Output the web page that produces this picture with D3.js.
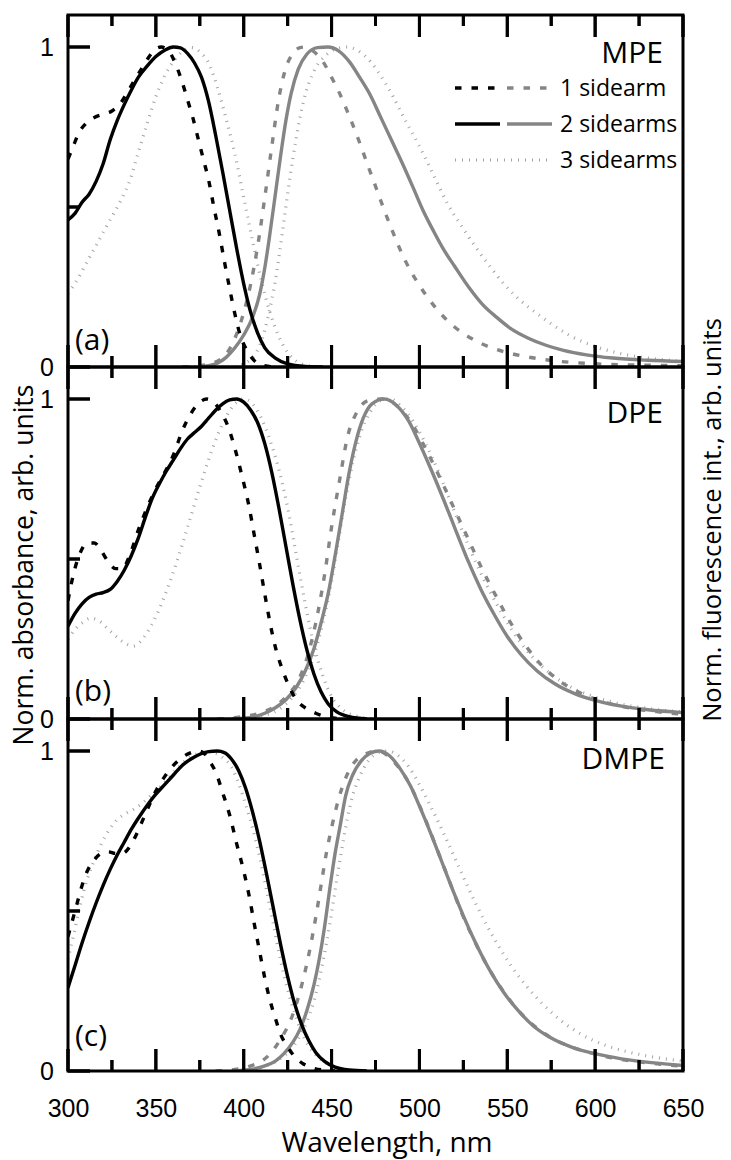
<!DOCTYPE html>
<html>
<head>
<meta charset="utf-8">
<script src="https://cdn.jsdelivr.net/npm/d3@7"></script>
<style>
  html, body { margin: 0; padding: 0; background: #fff; }
  svg { display: block; }
</style>
</head>
<body>
<svg id="chart" width="731" height="1160"></svg>
<script>
// ---------------- DATA ----------------
// wavelength (nm), normalized intensity
const mpeAbs1 = [[300,0.65],[303,0.69],[306,0.73],[310,0.76],[315,0.78],[320,0.79],[325,0.80],[330,0.825],[335,0.87],[340,0.915],[345,0.96],[349,0.99],[353,1.0],[357,0.99],[361,0.95],[365,0.89],[368,0.835],[371,0.78],[374,0.715],[377,0.65],[380,0.585],[383,0.5],[386,0.42],[389,0.33],[392,0.245],[395,0.165],[398,0.1],[402,0.05],[406,0.02],[411,0.005],[418,0]];
const mpeAbs2 = [[300,0.46],[304,0.48],[308,0.515],[312,0.54],[316,0.58],[320,0.635],[324,0.71],[328,0.77],[332,0.82],[336,0.865],[340,0.905],[345,0.94],[350,0.97],[355,0.99],[360,1.0],[364,0.997],[368,0.98],[372,0.95],[376,0.905],[380,0.83],[384,0.725],[388,0.61],[392,0.49],[396,0.37],[400,0.26],[404,0.17],[408,0.105],[412,0.06],[418,0.028],[425,0.01],[435,0.002],[445,0]];
const mpeAbs3 = [[300,0.23],[305,0.27],[310,0.32],[315,0.37],[320,0.42],[325,0.47],[330,0.52],[335,0.58],[340,0.67],[345,0.76],[350,0.845],[355,0.91],[360,0.955],[365,0.985],[370,0.998],[375,0.985],[380,0.95],[385,0.875],[390,0.775],[395,0.665],[400,0.53],[405,0.395],[410,0.27],[415,0.17],[420,0.095],[425,0.045],[430,0.018],[437,0.004],[445,0]];
const mpeEm1 = [[365,0],[375,0.004],[385,0.018],[390,0.04],[395,0.09],[400,0.17],[404,0.26],[408,0.38],[412,0.53],[416,0.69],[420,0.84],[424,0.935],[428,0.98],[432,0.998],[435,1.0],[440,0.985],[445,0.955],[450,0.905],[455,0.85],[460,0.785],[465,0.715],[470,0.64],[475,0.565],[480,0.49],[485,0.42],[490,0.355],[495,0.3],[500,0.255],[505,0.215],[510,0.18],[515,0.15],[520,0.125],[530,0.088],[540,0.062],[550,0.045],[560,0.033],[570,0.024],[585,0.015],[600,0.01],[625,0.006],[650,0.004]];
const mpeEm2 = [[375,0],[385,0.012],[390,0.03],[395,0.06],[400,0.1],[405,0.155],[409,0.225],[412,0.31],[415,0.42],[418,0.54],[421,0.66],[424,0.77],[427,0.855],[431,0.93],[436,0.978],[442,0.998],[448,1.0],[454,0.988],[460,0.955],[466,0.905],[472,0.85],[478,0.78],[484,0.71],[490,0.64],[496,0.566],[502,0.49],[508,0.425],[514,0.365],[520,0.315],[528,0.25],[536,0.195],[544,0.155],[552,0.12],[562,0.09],[572,0.068],[582,0.052],[595,0.038],[610,0.028],[630,0.021],[650,0.017]];
const mpeEm3 = [[395,0],[405,0.03],[410,0.08],[414,0.16],[418,0.27],[422,0.42],[426,0.58],[430,0.72],[434,0.83],[440,0.925],[447,0.975],[453,0.995],[459,1.0],[466,0.985],[472,0.955],[478,0.91],[485,0.845],[492,0.77],[500,0.69],[508,0.6],[516,0.51],[524,0.44],[532,0.375],[540,0.315],[548,0.26],[556,0.215],[565,0.175],[575,0.135],[585,0.1],[598,0.068],[612,0.045],[630,0.028],[650,0.018]];

const dpeAbs1 = [[300,0.37],[303,0.45],[307,0.52],[311,0.55],[315,0.55],[319,0.525],[323,0.49],[327,0.47],[331,0.47],[335,0.51],[340,0.59],[345,0.66],[350,0.72],[355,0.77],[360,0.825],[365,0.9],[370,0.955],[375,0.99],[379,1.0],[383,0.99],[387,0.96],[391,0.915],[395,0.845],[399,0.76],[403,0.665],[406,0.575],[409,0.485],[412,0.39],[415,0.3],[418,0.225],[422,0.155],[426,0.1],[430,0.06],[435,0.035],[441,0.018],[448,0.006],[455,0]];
const dpeAbs2 = [[300,0.29],[304,0.33],[308,0.36],[312,0.38],[316,0.39],[320,0.395],[324,0.405],[328,0.43],[332,0.465],[336,0.51],[340,0.565],[344,0.63],[348,0.69],[352,0.735],[356,0.775],[360,0.81],[364,0.845],[368,0.875],[372,0.895],[376,0.915],[380,0.94],[384,0.965],[388,0.985],[392,0.997],[396,1.0],[400,0.99],[404,0.965],[408,0.925],[412,0.86],[416,0.77],[420,0.66],[424,0.54],[428,0.42],[432,0.31],[436,0.215],[440,0.14],[444,0.085],[448,0.048],[453,0.022],[460,0.007],[470,0]];
const dpeAbs3 = [[300,0.25],[304,0.28],[308,0.30],[313,0.315],[318,0.305],[323,0.28],[328,0.255],[333,0.235],[337,0.228],[341,0.24],[345,0.27],[350,0.32],[355,0.385],[360,0.46],[365,0.545],[370,0.635],[375,0.725],[380,0.81],[385,0.885],[390,0.945],[395,0.985],[400,1.0],[405,0.985],[410,0.94],[415,0.87],[420,0.78],[425,0.66],[430,0.51],[435,0.36],[440,0.23],[445,0.135],[450,0.07],[456,0.03],[465,0.008],[475,0]];
const dpeEm1 = [[385,0],[400,0.008],[410,0.02],[418,0.04],[425,0.075],[430,0.11],[436,0.19],[441,0.3],[446,0.45],[450,0.6],[455,0.76],[459,0.88],[464,0.955],[471,0.995],[479,1.0],[488,0.975],[496,0.92],[504,0.84],[512,0.75],[520,0.655],[528,0.56],[536,0.465],[544,0.38],[552,0.3],[561,0.225],[570,0.165],[580,0.118],[592,0.08],[605,0.053],[620,0.034],[635,0.023],[650,0.015]];
const dpeEm2 = [[393,0],[405,0.006],[412,0.018],[418,0.035],[424,0.06],[430,0.1],[435,0.15],[440,0.22],[444,0.3],[448,0.39],[452,0.51],[456,0.64],[460,0.77],[464,0.87],[468,0.94],[473,0.985],[480,1.0],[487,0.98],[494,0.93],[500,0.862],[507,0.775],[514,0.682],[521,0.585],[528,0.49],[535,0.405],[542,0.332],[550,0.258],[558,0.2],[567,0.15],[577,0.11],[588,0.08],[600,0.058],[615,0.04],[630,0.029],[650,0.02]];
const dpeEm3 = [[398,0],[410,0.01],[420,0.03],[428,0.07],[434,0.12],[440,0.2],[445,0.3],[450,0.43],[454,0.56],[458,0.69],[462,0.8],[467,0.9],[472,0.96],[478,0.995],[483,1.0],[490,0.975],[497,0.925],[504,0.855],[511,0.77],[518,0.675],[525,0.58],[532,0.49],[540,0.4],[548,0.32],[556,0.25],[565,0.19],[575,0.14],[586,0.1],[598,0.072],[612,0.05],[630,0.033],[650,0.022]];

const dmpeAbs1 = [[300,0.42],[302,0.46],[305,0.52],[308,0.58],[311,0.625],[315,0.66],[319,0.68],[323,0.685],[327,0.68],[331,0.68],[335,0.7],[339,0.74],[343,0.79],[347,0.84],[351,0.885],[355,0.92],[360,0.955],[365,0.98],[370,0.995],[374,1.0],[378,0.99],[381,0.965],[384,0.935],[388,0.87],[392,0.8],[396,0.71],[400,0.625],[403,0.55],[406,0.46],[409,0.375],[412,0.29],[415,0.22],[418,0.165],[421,0.115],[425,0.075],[429,0.045],[434,0.022],[440,0.008],[447,0.002],[452,0]];
const dmpeAbs2 = [[300,0.26],[304,0.33],[308,0.4],[312,0.465],[316,0.525],[320,0.58],[324,0.63],[328,0.675],[332,0.715],[336,0.755],[340,0.79],[345,0.83],[350,0.865],[355,0.895],[360,0.925],[365,0.955],[370,0.975],[375,0.99],[380,0.998],[385,1.0],[389,0.995],[393,0.975],[397,0.94],[401,0.885],[405,0.81],[409,0.72],[413,0.615],[417,0.505],[421,0.395],[425,0.295],[429,0.21],[433,0.145],[437,0.095],[441,0.058],[446,0.03],[452,0.012],[460,0.003],[470,0]];
const dmpeAbs3 = [[300,0.35],[303,0.42],[307,0.52],[311,0.6],[315,0.66],[319,0.71],[323,0.75],[328,0.785],[333,0.805],[338,0.82],[343,0.84],[348,0.865],[353,0.89],[358,0.92],[363,0.95],[368,0.975],[373,0.99],[378,0.998],[383,0.995],[388,0.98],[393,0.95],[397,0.9],[401,0.835],[405,0.76],[409,0.67],[413,0.565],[417,0.455],[421,0.345],[425,0.255],[429,0.18],[433,0.12],[437,0.078],[442,0.045],[448,0.02],[455,0.007],[465,0]];
const dmpeEm1 = [[384,0],[395,0.005],[404,0.016],[410,0.03],[416,0.06],[421,0.1],[426,0.15],[430,0.21],[434,0.29],[438,0.39],[441,0.48],[444,0.58],[447,0.68],[450,0.76],[454,0.85],[458,0.915],[463,0.965],[469,0.99],[476,1.0],[482,0.985],[488,0.95],[494,0.9],[500,0.83],[506,0.75],[512,0.665],[518,0.58],[524,0.495],[531,0.41],[539,0.325],[547,0.255],[555,0.197],[564,0.147],[574,0.107],[586,0.076],[600,0.053],[615,0.036],[632,0.024],[650,0.015]];
const dmpeEm2 = [[393,0],[405,0.006],[412,0.016],[418,0.031],[423,0.055],[428,0.09],[432,0.13],[436,0.19],[440,0.27],[443,0.35],[446,0.45],[449,0.57],[452,0.68],[455,0.77],[458,0.86],[462,0.925],[467,0.97],[472,0.993],[477,1.0],[483,0.985],[489,0.945],[495,0.89],[501,0.815],[507,0.735],[513,0.65],[519,0.565],[525,0.485],[532,0.4],[540,0.315],[548,0.245],[556,0.19],[565,0.14],[575,0.103],[587,0.074],[600,0.054],[615,0.038],[632,0.026],[650,0.017]];
const dmpeEm3 = [[398,0],[410,0.012],[420,0.035],[428,0.075],[434,0.13],[440,0.22],[445,0.34],[449,0.46],[453,0.6],[457,0.73],[461,0.84],[466,0.92],[471,0.97],[477,0.995],[482,1.0],[488,0.985],[494,0.95],[500,0.895],[507,0.82],[514,0.74],[521,0.655],[528,0.57],[536,0.48],[544,0.4],[552,0.33],[561,0.265],[570,0.21],[580,0.16],[592,0.115],[606,0.08],[620,0.058],[635,0.042],[650,0.031]];

const panelNames = ["MPE", "DPE", "DMPE"];
const panelTags = ["(a)", "(b)", "(c)"];
const legendLabels = ["1 sidearm", "2 sidearms", "3 sidearms"];
const xMajorTicks = [300, 350, 400, 450, 500, 550, 600, 650];
const xMinorTicks = [325, 375, 425, 475, 525, 575, 625];
const yLabelTicks = [0, 1];
const yMinorTicks = [0.5];
const xTitle = "Wavelength, nm";
const yTitleLeft = "Norm. absorbance, arb. units";
const yTitleRight = "Norm. fluorescence int., arb. units";

// ---------------- LAYOUT ----------------
const left = 68, right = 683;
const panelTop = [15, 367, 719];
const panelH = 352;
const BLACK = "#000", GRAY = "#858585", LIGHT = "#a3a3a3";
const styles = [
  { dash: "6.5,10", width: 3.4 },   // 1 sidearm
  { dash: null, width: 3.4 },       // 2 sidearms
  { dash: "1,6", width: 3.2 }       // 3 sidearms
];
const panels = [
  { abs: [mpeAbs1, mpeAbs2, mpeAbs3], em: [mpeEm1, mpeEm2, mpeEm3] },
  { abs: [dpeAbs1, dpeAbs2, dpeAbs3], em: [dpeEm1, dpeEm2, dpeEm3] },
  { abs: [dmpeAbs1, dmpeAbs2, dmpeAbs3], em: [dmpeEm1, dmpeEm2, dmpeEm3] }
];
const nameY = [63, 423, 769];
const nameX = [663, 663, 665];
const tagY = [350, 701, 1046];

const svg = d3.select("#chart");
const x = d3.scaleLinear().domain([300, 650]).range([left, right]);
const TXT = "'Open Sans', 'Noto Sans', sans-serif";
const NUM = "'Liberation Sans', Arial, sans-serif";

const xTickSpec = xMajorTicks.map(v => ({ v, len: 22 }))
  .concat(xMinorTicks.map(v => ({ v, len: 11 })));
const yTickSpec = yLabelTicks.map(v => ({ v, len: 22 }))
  .concat(yMinorTicks.map(v => ({ v, len: 12 })));

const yScales = [];
panels.forEach((p, i) => {
  const top = panelTop[i], bottom = top + panelH;
  const y = d3.scaleLinear().domain([0, 1.1]).range([bottom, top]);
  yScales.push(y);
  const g = svg.append("g");

  g.append("clipPath").attr("id", "clip" + i)
    .append("rect").attr("x", left).attr("y", top).attr("width", right - left).attr("height", panelH);

  const lineGen = d3.line().x(d => x(d[0])).y(d => y(d[1])).curve(d3.curveMonotoneX);
  const cg = g.append("g").attr("clip-path", `url(#clip${i})`);

  const order = [
    { data: p.abs[2], color: LIGHT, s: 2 },
    { data: p.em[2], color: LIGHT, s: 2 },
    { data: p.em[0], color: GRAY, s: 0 },
    { data: p.em[1], color: GRAY, s: 1 },
    { data: p.abs[0], color: BLACK, s: 0 },
    { data: p.abs[1], color: BLACK, s: 1 }
  ];
  order.forEach(o => {
    const path = cg.append("path")
      .attr("d", lineGen(o.data))
      .attr("fill", "none")
      .attr("stroke", o.color)
      .attr("stroke-width", styles[o.s].width)
      .attr("stroke-linejoin", "round");
    if (styles[o.s].dash) path.attr("stroke-dasharray", styles[o.s].dash);
  });

  // y labels via axis
  const yl = g.append("g").attr("transform", `translate(${left},0)`)
    .call(d3.axisLeft(y).tickValues(yLabelTicks).tickSize(0).tickPadding(14).tickFormat(d3.format("d")));
  yl.select(".domain").remove();
  yl.selectAll("text").attr("font-family", NUM).attr("font-size", 25).attr("fill", "#000");

  // frame
  g.append("rect").attr("x", left).attr("y", top).attr("width", right - left).attr("height", panelH)
    .attr("fill", "none").attr("stroke", "#000").attr("stroke-width", 3);

  g.append("text").attr("x", nameX[i]).attr("y", nameY[i]).attr("text-anchor", "end")
    .attr("font-family", TXT).attr("font-size", 30).attr("fill", "#000").text(panelNames[i]);
  g.append("text").attr("x", 75).attr("y", tagY[i])
    .attr("font-family", TXT).attr("font-size", 30).attr("fill", "#000").text(panelTags[i]);

  if (i === 2) {
    const xa = g.append("g").attr("transform", `translate(0,${bottom})`)
      .call(d3.axisBottom(x).tickValues(xMajorTicks).tickSize(0).tickPadding(28).tickFormat(d3.format("d")));
    xa.select(".domain").remove();
    xa.selectAll("text").attr("font-family", NUM).attr("font-size", 25).attr("fill", "#000");
  }
});

// inward ticks of every panel, drawn from the scales (as one path per panel, plus lines)
const ticksG = svg.append("g");
yScales.forEach((y, i) => {
  const top = panelTop[i], bottom = top + panelH;
  const pth = d3.path();
  xTickSpec.forEach(t => {
    pth.moveTo(x(t.v), bottom); pth.lineTo(x(t.v), bottom - t.len);
    pth.moveTo(x(t.v), top); pth.lineTo(x(t.v), top + t.len);
  });
  yTickSpec.forEach(t => {
    pth.moveTo(left, y(t.v)); pth.lineTo(left + t.len, y(t.v));
  });
  ticksG.append("path").attr("d", pth.toString()).attr("fill", "none")
    .attr("stroke", "#000").attr("stroke-width", 3);
  xTickSpec.forEach(t => {
    ticksG.append("line").attr("x1", x(t.v)).attr("x2", x(t.v)).attr("y1", bottom).attr("y2", bottom - t.len)
      .attr("stroke", "#000").attr("stroke-width", 3);
    ticksG.append("line").attr("x1", x(t.v)).attr("x2", x(t.v)).attr("y1", top).attr("y2", top + t.len)
      .attr("stroke", "#000").attr("stroke-width", 3);
  });
  yTickSpec.forEach(t => {
    ticksG.append("line").attr("x1", left).attr("x2", left + t.len).attr("y1", y(t.v)).attr("y2", y(t.v))
      .attr("stroke", "#000").attr("stroke-width", 3);
  });
});

// legend (panel a)
const legRowY = [88, 124, 160];
const leg = svg.append("g");
legendLabels.forEach((lab, k) => {
  const yy = legRowY[k];
  const segs = k < 2 ? [[455, 500, BLACK], [507, 552, GRAY]] : [[455, 552, LIGHT]];
  segs.forEach(sg => {
    const l = leg.append("line").attr("x1", sg[0]).attr("x2", sg[1]).attr("y1", yy).attr("y2", yy)
      .attr("stroke", sg[2]).attr("stroke-width", styles[k].width);
    if (styles[k].dash) l.attr("stroke-dasharray", styles[k].dash);
  });
  leg.append("text").attr("x", 560).attr("y", yy + 8)
    .attr("font-family", TXT).attr("font-size", 23).attr("fill", "#000").text(lab);
});

// axis titles
svg.append("text").attr("x", 387).attr("y", 1152).attr("text-anchor", "middle")
  .attr("font-family", TXT).attr("font-size", 28).attr("fill", "#000").text(xTitle);
svg.append("text").attr("transform", "translate(33,565) rotate(-90)").attr("text-anchor", "middle")
  .attr("font-family", TXT).attr("font-size", 26.5).attr("fill", "#000").text(yTitleLeft);
svg.append("text").attr("transform", "translate(721,520) rotate(-90)").attr("text-anchor", "middle")
  .attr("font-family", TXT).attr("font-size", 25.5).attr("fill", "#000").text(yTitleRight);
</script>
</body>
</html>
